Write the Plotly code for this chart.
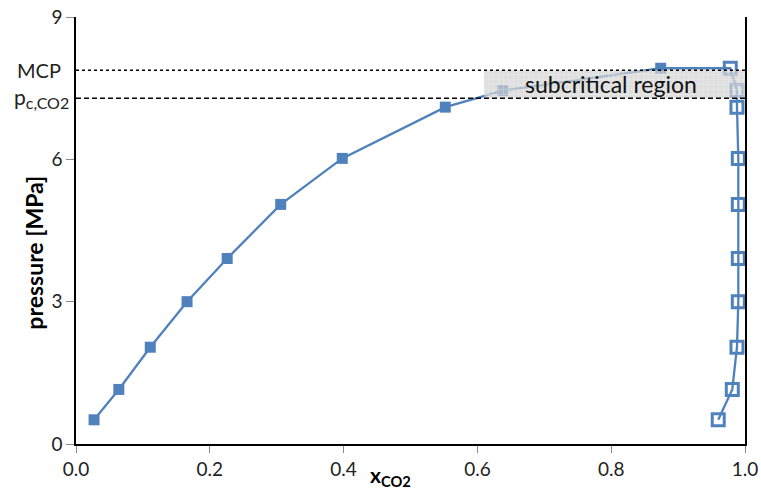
import plotly.graph_objects as go

pressure = [0.51, 1.15, 2.04, 3.00, 3.91, 5.05, 6.02, 7.10, 7.45, 7.92]
x_liquid = [0.027, 0.064, 0.111, 0.166, 0.226, 0.306, 0.398, 0.552, 0.638, 0.874]
x_vapor = [0.960, 0.981, 0.988, 0.990, 0.990, 0.990, 0.990, 0.988, 0.988, 0.978]

p_mcp = 7.88
p_c_co2 = 7.29
region_x0 = 0.61
region_x1 = 1.0

x_ticks = [0.0, 0.2, 0.4, 0.6, 0.8, 1.0]
x_tick_text = ["0.0", "0.2", "0.4", "0.6", "0.8", "1.0"]
y_ticks = [0, 3, 6, 9]

BLUE = "#4f81bd"
FONT = "Lato"

fig = go.Figure()

# connected envelope line: liquid branch upward then vapor branch downward
line_x = x_liquid + x_vapor[::-1]
line_y = pressure + pressure[::-1]
fig.add_trace(go.Scatter(x=line_x, y=line_y, mode="lines",
                         line=dict(color=BLUE, width=2.3), hoverinfo="skip", showlegend=False))
fig.add_trace(go.Scatter(x=x_liquid, y=pressure, mode="markers",
                         marker=dict(symbol="square", size=11, color=BLUE), showlegend=False))
fig.add_trace(go.Scatter(x=x_vapor, y=pressure, mode="markers",
                         marker=dict(symbol="square-open", size=12, color=BLUE,
                                     line=dict(width=3, color=BLUE)), showlegend=False))

# subcritical region box (drawn over the data)
fig.add_trace(go.Scatter(
    x=[region_x0, region_x1, region_x1, region_x0, region_x0],
    y=[p_c_co2, p_c_co2, p_mcp, p_mcp, p_c_co2],
    mode="lines", line=dict(width=0), fill="toself",
    fillcolor="rgba(210,210,210,0.7)",
    fillpattern=dict(shape="+", fgcolor="rgba(250,250,250,0.9)",
                     bgcolor="rgba(210,210,210,0.7)", size=5, solidity=0.2),
    hoverinfo="skip", showlegend=False))

# reference lines
fig.add_trace(go.Scatter(x=[0, 1], y=[p_mcp, p_mcp], mode="lines",
                         line=dict(color="black", width=1.5, dash="dot"),
                         hoverinfo="skip", showlegend=False))
fig.add_trace(go.Scatter(x=[0, 1], y=[p_c_co2, p_c_co2], mode="lines",
                         line=dict(color="black", width=1.5, dash="5px,3px"),
                         hoverinfo="skip", showlegend=False))

fig.update_layout(
    width=761, height=494,
    margin=dict(l=76, r=16, t=17, b=50),
    paper_bgcolor="white", plot_bgcolor="white",
    font=dict(family=FONT, size=19, color="#222"),
    xaxis=dict(range=[0, 1], tickvals=x_ticks, ticktext=x_tick_text, automargin=False,
               showgrid=False, zeroline=False, showline=True, linecolor="black", linewidth=1.5,
               ticks="outside", ticklen=7, tickcolor="#888", tickwidth=1,
               tickfont=dict(size=19, family=FONT, color="#222")),
    yaxis=dict(range=[0, 9], tickvals=y_ticks, automargin=False,
               showgrid=False, zeroline=False, showline=True, linecolor="black", linewidth=1.5,
               mirror=True,
               ticks="outside", ticklen=8, tickcolor="#888", tickwidth=1,
               tickfont=dict(size=19, family=FONT, color="#222")),
    annotations=[
        dict(text="subcritical region", x=0.80, y=(p_mcp + p_c_co2) / 2, xref="x", yref="y",
             showarrow=False, font=dict(size=23, family=FONT, color="#111")),
        dict(text="MCP", x=-0.02, y=p_mcp, xref="paper", yref="y", xanchor="right",
             yanchor="middle", showarrow=False, font=dict(size=20, family=FONT, color="#222")),
        dict(text="p<sub><span style='font-size:16px'>c,CO2</span></sub>", x=-0.007, y=p_c_co2,
             xref="paper", yref="y", xanchor="right",
             yanchor="middle", showarrow=False, font=dict(size=21, family=FONT, color="#222")),
        dict(text="<b>pressure [MPa]</b>", x=-0.062, y=0.447, xref="paper", yref="paper",
             textangle=-90, showarrow=False, xanchor="center", yanchor="middle",
             font=dict(size=23, family=FONT, color="black")),
        dict(text="<b>x<sub>CO2</sub></b>", x=0.47, y=-0.037, xref="paper", yref="paper",
             showarrow=False, xanchor="center", yanchor="top",
             font=dict(size=21, family=FONT, color="black")),
    ],
)

fig.write_html("out.html")
